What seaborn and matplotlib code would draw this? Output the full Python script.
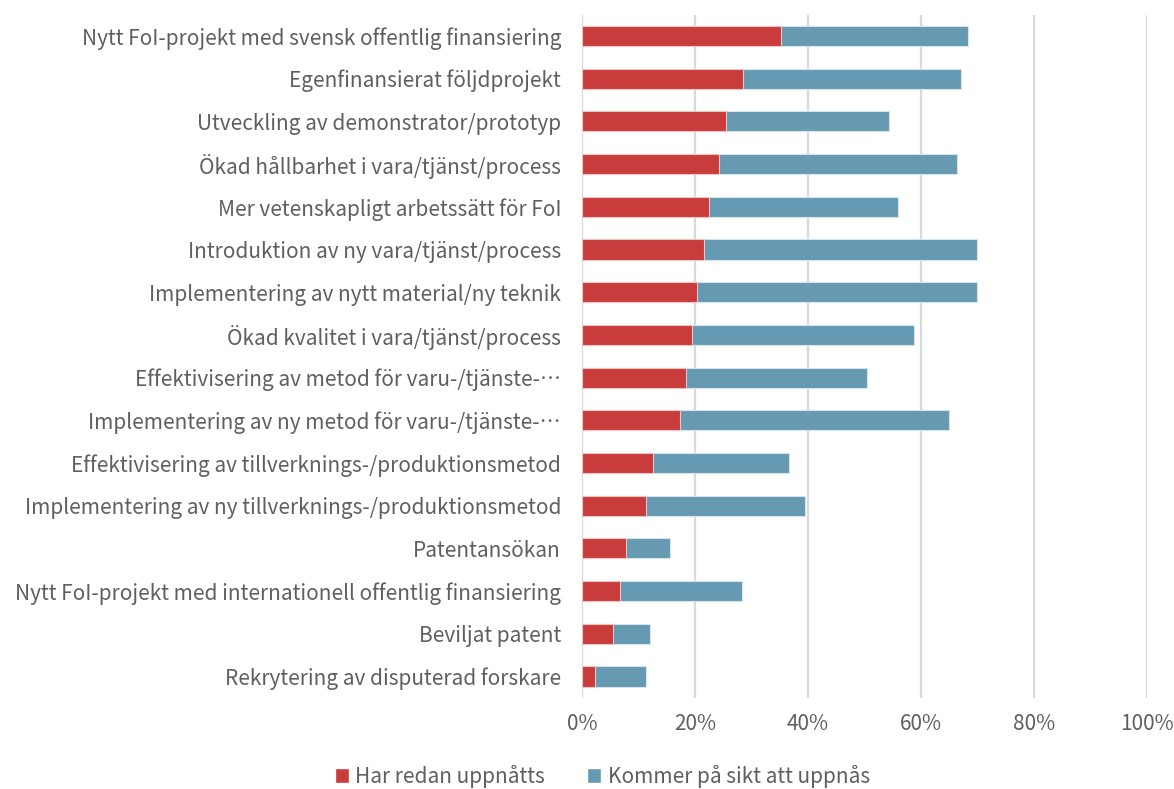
import matplotlib
matplotlib.use("Agg")
import matplotlib.pyplot as plt
import seaborn as sns
import pandas as pd
from matplotlib.patches import Patch
from matplotlib.ticker import PercentFormatter

sns.set_theme(style="white")
plt.rcParams["font.family"] = ["Noto Sans CJK JP", "DejaVu Sans"]

# ── DATA ───────────────────────────────────────────────────
categories = [
    "Nytt FoI-projekt med svensk offentlig finansiering",
    "Egenfinansierat följdprojekt",
    "Utveckling av demonstrator/prototyp",
    "Ökad hållbarhet i vara/tjänst/process",
    "Mer vetenskapligt arbetssätt för FoI",
    "Introduktion av ny vara/tjänst/process",
    "Implementering av nytt material/ny teknik",
    "Ökad kvalitet i vara/tjänst/process",
    "Effektivisering av metod för varu-/tjänste-⋯",
    "Implementering av ny metod för varu-/tjänste-⋯",
    "Effektivisering av tillverknings-/produktionsmetod",
    "Implementering av ny tillverknings-/produktionsmetod",
    "Patentansökan",
    "Nytt FoI-projekt med internationell offentlig finansiering",
    "Beviljat patent",
    "Rekrytering av disputerad forskare",
]
redan = [0.353, 0.285, 0.255, 0.243, 0.225, 0.216, 0.204, 0.195,
         0.184, 0.174, 0.126, 0.113, 0.078, 0.067, 0.055, 0.023]
sikt  = [0.330, 0.385, 0.289, 0.420, 0.335, 0.484, 0.495, 0.392,
         0.321, 0.475, 0.241, 0.282, 0.078, 0.217, 0.066, 0.090]
series = ["Har redan uppnåtts", "Kommer på sikt att uppnås"]

RED, BLUE = "#C83C3C", "#6699B2"
GREY = "#5F5F5F"

df = pd.DataFrame({"cat": categories, "redan": redan, "sikt": sikt})
df["total"] = df["redan"] + df["sikt"]

# ── PLOT ───────────────────────────────────────────────────
fig = plt.figure(figsize=(11.74, 7.89), dpi=100)
ax = fig.add_axes([0.4957, 0.1155, 0.4813, 0.866])

sns.barplot(data=df, y="cat", x="total", color=BLUE, width=0.47,
            edgecolor="#D6E4EC", linewidth=0.8, saturation=1, ax=ax)
sns.barplot(data=df, y="cat", x="redan", color=RED, width=0.47,
            edgecolor="#EBC5C5", linewidth=0.8, saturation=1, ax=ax)

ax.set_xlim(0, 1)
ax.set_ylim(len(categories) - 0.5, -0.5)
ax.set_xticks([0, 0.2, 0.4, 0.6, 0.8, 1.0])
ax.xaxis.set_major_formatter(PercentFormatter(1.0, decimals=0))
ax.grid(axis="x", color="#D9D9D9", linewidth=1.6)
ax.set_axisbelow(True)
for s in ax.spines.values():
    s.set_visible(False)
ax.set_xlabel("")
ax.set_ylabel("")
ax.tick_params(axis="y", length=0, pad=15, labelsize=15, labelcolor=GREY)
ax.tick_params(axis="x", length=0, pad=11, labelsize=15, labelcolor=GREY)

handles = [Patch(facecolor=RED), Patch(facecolor=BLUE)]
fig.legend(handles, series, loc="center", bbox_to_anchor=(0.513, 0.016),
           ncol=2, frameon=False, fontsize=15, labelcolor=GREY,
           handlelength=0.7, handleheight=0.7, handletextpad=0.3,
           columnspacing=2.0)

fig.savefig("out.png", dpi=100)
